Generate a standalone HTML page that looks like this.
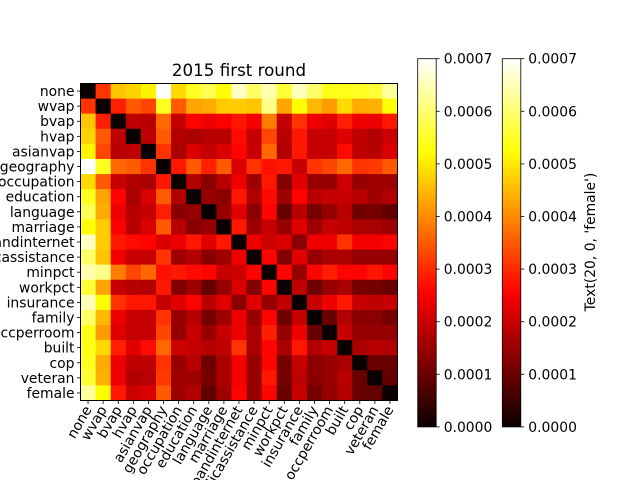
<!DOCTYPE html>
<html><head><meta charset="utf-8"><style>
html,body{margin:0;background:#fff;width:640px;height:480px;overflow:hidden}
svg{display:block;overflow:hidden;font-family:"DejaVu Sans","Liberation Sans",sans-serif}
</style></head><body>
<svg id="chart" width="640" height="480" xmlns="http://www.w3.org/2000/svg">
<defs>
<linearGradient id="hotgrad" x1="0" y1="1" x2="0" y2="0">
<stop offset="0" stop-color="#0b0000"/>
<stop offset="0.365" stop-color="#ff0000"/>
<stop offset="0.746" stop-color="#ffff00"/>
<stop offset="1" stop-color="#ffffff"/>
</linearGradient>
</defs>
<text x="239" y="76" font-size="16.7" text-anchor="middle">2015 first round</text>
<g id="cells"></g>
<rect x="80.5" y="83.5" width="317" height="317" fill="none" stroke="#000" stroke-width="1"/>
<g id="ticks"></g>
<g id="cbars"></g>
<text transform="translate(595,242) rotate(-90)" font-size="13.9" text-anchor="middle">Text(20, 0, 'female')</text>
</svg>
<script>
const labels = ["none","wvap","bvap","hvap","asianvap","geography","occupation","education","language","marriage","broadbandinternet","publicassistance","minpct","workpct","insurance","family","occperroom","built","cop","veteran","female"];
const vmin = 0, vmax = 0.0007;
const cbTicks = [0,0.0001,0.0002,0.0003,0.0004,0.0005,0.0006,0.0007];
const cbTickLabels = ["0.0000","0.0001","0.0002","0.0003","0.0004","0.0005","0.0006","0.0007"];
const row0=[0,.44,.66,.68,.73,1,.69,.78,.83,.75,.94,.85,.92,.80,.93,.85,.77,.77,.78,.80,.90];
const row1=[.44,0,.41,.5,.47,.78,.5,.61,.62,.67,.67,.66,.88,.61,.75,.64,.6,.69,.62,.63,.75];
const row2=[.66,.41,0,.27,.26,.52,.28,.37,.34,.36,.4,.35,.55,.28,.44,.34,.32,.41,.34,.34,.4];
const row3=[.68,.5,.27,0,.27,.5,.25,.24,.26,.26,.38,.28,.47,.26,.4,.28,.28,.32,.27,.25,.29];
const row4=[.73,.47,.26,.27,0,.44,.24,.31,.28,.31,.37,.28,.52,.25,.4,.28,.28,.38,.27,.26,.31];
const row5=[1,.78,.52,.5,.44,0,.4,.5,.41,.5,.31,.44,.39,.4,.28,.44,.47,.52,.44,.45,.5];
const row6=[.69,.5,.28,.25,.24,.4,0,.25,.19,.26,.34,.22,.4,.18,.32,.21,.21,.29,.21,.22,.22];
const row7=[.78,.61,.37,.24,.31,.5,.25,0,.21,.19,.4,.25,.38,.22,.37,.26,.28,.28,.26,.22,.25];
const row8=[.83,.62,.34,.26,.28,.41,.19,.21,0,.21,.32,.19,.37,.14,.26,.16,.21,.26,.15,.16,.13];
const row9=[.75,.67,.36,.26,.31,.5,.26,.19,.21,0,.4,.22,.28,.21,.32,.22,.28,.27,.24,.24,.22];
const row10=[.94,.67,.4,.38,.37,.31,.34,.4,.32,.4,0,.34,.29,.31,.19,.34,.34,.44,.35,.35,.37];
const row11=[.85,.66,.35,.28,.28,.44,.22,.25,.19,.22,.34,0,.37,.18,.32,.21,.24,.24,.21,.21,.21];
const row12=[.92,.88,.55,.47,.52,.39,.4,.38,.37,.28,.29,.37,0,.37,.21,.37,.41,.37,.37,.4,.37];
const row13=[.80,.61,.28,.26,.25,.4,.18,.22,.14,.21,.31,.18,.37,0,.27,.15,.21,.24,.16,.16,.14];
const row14=[.93,.75,.44,.4,.4,.28,.32,.37,.26,.32,.19,.32,.21,.27,0,.28,.34,.4,.28,.27,.28];
const row15=[.85,.64,.34,.28,.28,.44,.21,.26,.16,.22,.34,.21,.37,.15,.28,0,.14,.25,.19,.19,.16];
const row16=[.77,.6,.32,.28,.28,.47,.21,.28,.21,.28,.34,.24,.41,.21,.34,.14,0,.28,.21,.21,.21];
const row17=[.77,.69,.41,.32,.38,.52,.29,.28,.26,.27,.44,.24,.37,.24,.4,.25,.28,0,.24,.26,.25];
const row18=[.78,.62,.34,.27,.27,.44,.21,.26,.15,.24,.35,.21,.37,.16,.28,.19,.21,.24,0,.14,.14];
const row19=[.80,.63,.34,.25,.26,.45,.22,.22,.16,.24,.35,.21,.4,.16,.27,.19,.21,.26,.14,0,.13];
const row20=[.90,.75,.4,.29,.31,.5,.22,.25,.13,.22,.37,.21,.37,.14,.28,.16,.21,.25,.14,.13,0];
const fractions=[row0,row1,row2,row3,row4,row5,row6,row7,row8,row9,row10,row11,row12,row13,row14,row15,row16,row17,row18,row19,row20];

const NS="http://www.w3.org/2000/svg";
const X0=80.5, Y0=83.5, SIZE=317, n=labels.length, cw=SIZE/n;
const xs=i=>X0+i*cw, ys=i=>Y0+i*cw;
function hot(v){
  let t=(v-vmin)/(vmax-vmin); t=Math.max(0,Math.min(1,t));
  const r=Math.min(1,0.0416+t/0.365*(1-0.0416));
  const g=Math.max(0,Math.min(1,(t-0.365)/0.381));
  const b=Math.max(0,Math.min(1,(t-0.746)/0.254));
  return `rgb(${Math.round(r*255)},${Math.round(g*255)},${Math.round(b*255)})`;
}
function mk(tag,attrs){const e=document.createElementNS(NS,tag);for(const k in attrs)e.setAttribute(k,attrs[k]);return e;}
const cells=document.getElementById('cells');
for(let r=0;r<n;r++)for(let c=0;c<n;c++){
  const v=fractions[r][c]*vmax;
  const e=mk('rect',{x:xs(c),y:ys(r),width:cw+0.4,height:cw+0.4,fill:hot(v)});
  
  
  cells.appendChild(e);
}
const tk=document.getElementById('ticks');
labels.forEach((lab,i)=>{
  const cy=ys(i)+cw/2, cx=xs(i)+cw/2;
  const l1=mk('line',{x1:X0-3.5,x2:X0,y1:cy,y2:cy,stroke:'#000','stroke-width':0.8});
  
  
  tk.appendChild(l1);
  const t1=mk('text',{x:X0-6,y:cy+5,'font-size':13.9,'text-anchor':'end'});
  t1.textContent=lab;
  
  
  tk.appendChild(t1);
  const l2=mk('line',{x1:cx,x2:cx,y1:Y0+SIZE,y2:Y0+SIZE+3.5,stroke:'#000','stroke-width':0.8});
  
  
  tk.appendChild(l2);
  const t2=mk('text',{transform:`translate(${cx+4},${Y0+SIZE+9}) rotate(-60)`,'font-size':13.9,'text-anchor':'end'});
  t2.textContent=lab;
  
  
  tk.appendChild(t2);
});
const cb=document.getElementById('cbars');
const CBT=58.7, CBB=426.9;
[417.7,502.3].forEach((x,k)=>{
  const rr=mk('rect',{x:x,y:CBT,width:18.5,height:CBB-CBT,fill:'url(#hotgrad)',stroke:'#000','stroke-width':0.8});
  
  
  cb.appendChild(rr);
  cbTicks.forEach((v,j)=>{
    const y=CBB-(v-vmin)/(vmax-vmin)*(CBB-CBT);
    const l=mk('line',{x1:x+18.5,x2:x+22,y1:y,y2:y,stroke:'#000','stroke-width':0.8});
    
    
    cb.appendChild(l);
    const t=mk('text',{x:x+26,y:y+5,'font-size':13.9});
    t.textContent=cbTickLabels[j];
    
    
    cb.appendChild(t);
  });
});
</script>
</body></html>
